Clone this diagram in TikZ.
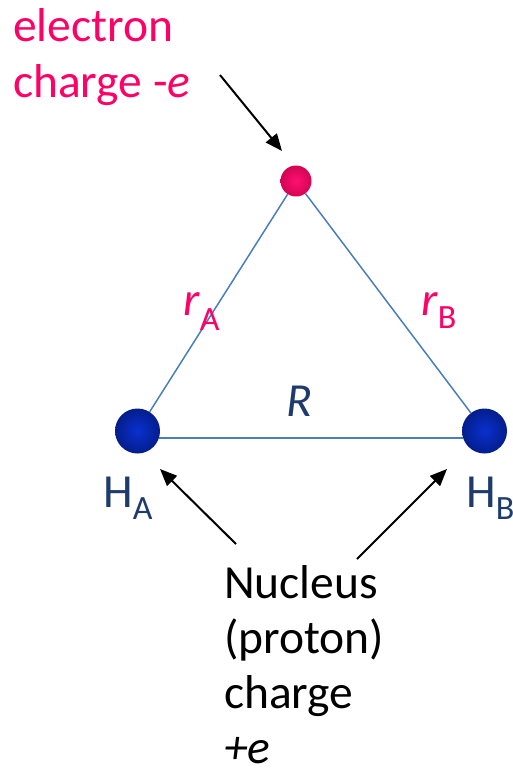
\documentclass[tikz,border=0pt]{standalone}
\usepackage{fontspec}
\setmainfont{Carlito}
\usetikzlibrary{arrows.meta}
\definecolor{elmag}{HTML}{FF0066}
\definecolor{navy}{HTML}{1F3B6E}
\definecolor{bondblue}{HTML}{4A7EBB}
\definecolor{nucin}{HTML}{0A30D0}
\definecolor{nucout}{HTML}{001468}
\definecolor{nucedge}{HTML}{000C48}
\definecolor{elin}{HTML}{FF1070}
\definecolor{elout}{HTML}{C00048}
\definecolor{eledge}{HTML}{7A002A}
\pgfdeclareradialshading{nucball}{\pgfpoint{0bp}{0bp}}{color(0bp)=(nucin); color(38bp)=(nucout); color(50bp)=(nucedge)}
\pgfdeclareradialshading{elball}{\pgfpoint{0bp}{0bp}}{color(0bp)=(elin); color(36bp)=(elout); color(50bp)=(eledge)}
\newcommand{\bigtxt}{\fontsize{47.5}{55}\selectfont}
\newcommand{\subtxt}{\fontsize{34}{34}\selectfont}
\tikzset{
  lbl/.style={anchor=base west, inner sep=0pt, font=\bigtxt},
  bond/.style={draw=bondblue, line width=1.5pt},
  pointer/.style={draw=black, line width=2pt, -{Triangle[length=17pt,width=14pt]}},
}
\begin{document}
\begin{tikzpicture}[x=1pt,y=-1pt]
\useasboundingbox (0,0) rectangle (513,774);
% particles
\node[circle, inner sep=0pt, minimum size=31pt, shading=elball] (el) at (296,181) {};
\node[circle, inner sep=0pt, minimum size=45pt, shading=nucball] (HA) at (137.5,431) {};
\node[circle, inner sep=0pt, minimum size=45pt, shading=nucball] (HB) at (484.5,431) {};
% bonds
\draw[bond] (el) -- (HA);
\draw[bond] (el) -- (HB);
\draw[bond] (HA.-18) -- (HB.198);
% labels
\node[lbl, text=elmag] (elt1) at (13,41) {electron};
\node[lbl, text=elmag] (elt2) at (13,97) {charge -\textit{e}};
\node[lbl, text=elmag] (rA) at (183,315) {\textit{r}\raisebox{-15pt}{\subtxt A}};
\node[lbl, text=elmag] (rB) at (421,315) {\textit{r}\raisebox{-13pt}{\subtxt B}};
\node[lbl, text=navy] (R) at (286,416) {\textit{R}};
\node[lbl, text=navy] (HAl) at (103,507) {H\raisebox{-12pt}{\subtxt A}};
\node[lbl, text=navy] (HBl) at (466,507) {H\raisebox{-12pt}{\subtxt B}};
\node[lbl] (n1) at (224,598) {Nucleus};
\node[lbl] (n2) at (224,653) {(proton)};
\node[lbl] (n3) at (224,708) {charge};
\node[lbl] (n4) at (224,763) {\textit{+e}};
% pointers
\coordinate (pe) at (220,75);
\coordinate (pa) at (236,544);
\coordinate (pb) at (357,559);
\coordinate (ta) at (160,469);
\coordinate (tb) at (447,469);
\coordinate (te) at (282,151);
\draw[pointer] (pe) -- (te);
\draw[pointer] (pa) -- (ta);
\draw[pointer] (pb) -- (tb);
\end{tikzpicture}
\end{document}
